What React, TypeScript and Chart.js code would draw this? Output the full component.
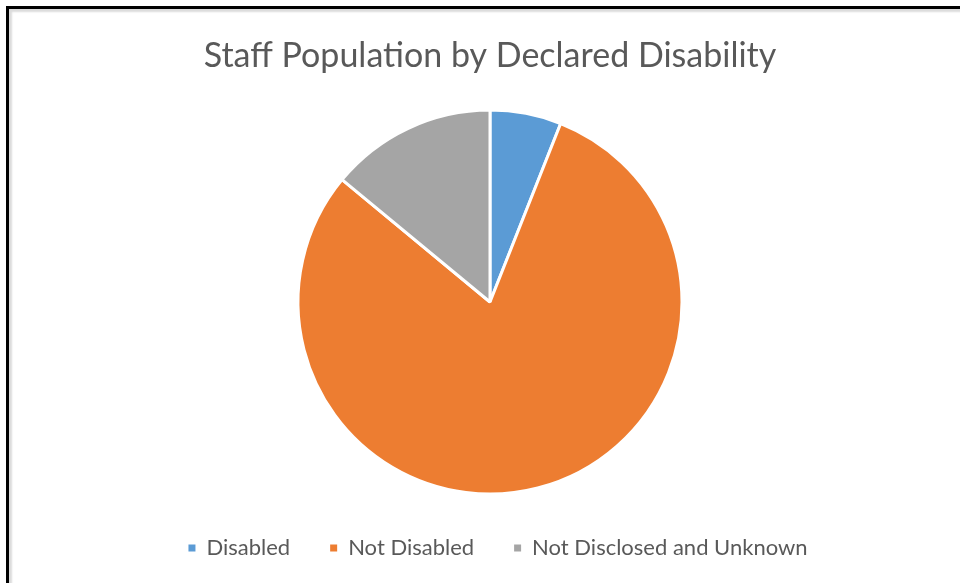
import React, { useEffect, useRef } from "react";
import { Chart, registerables } from "chart.js";

Chart.register(...registerables);

const categories = ["Disabled", "Not Disabled", "Not Disclosed and Unknown"];
const values = [6.0, 80.0, 14.0];
const colors = ["#5B9BD5", "#ED7D31", "#A5A5A5"];
const titleText = "Staff Population by Declared Disability";

const legendShift = {
  id: "legendShift",
  beforeDraw(chart: any) {
    const lg = chart.legend;
    if (lg && !lg._shifted) {
      lg.left += 8;
      lg.right += 8;
      lg._shifted = true;
    }
  },
};

export default function App() {
  const ref = useRef<HTMLCanvasElement | null>(null);

  useEffect(() => {
    if (!ref.current) return;
    const baseLabels = (Chart as any).overrides.pie.plugins.legend.labels.generateLabels;
    const chart = new Chart(ref.current, {
      type: "pie",
      data: {
        labels: categories,
        datasets: [
          {
            data: values,
            backgroundColor: colors,
            borderColor: "#FFFFFF",
            borderWidth: 3,
            hoverOffset: 0,
          },
        ],
      },
      options: {
        animation: false,
        responsive: false,
        events: [],
        radius: 192,
        layout: { padding: { left: 20, right: 0, top: 0, bottom: 14 } },
        plugins: {
          tooltip: { enabled: false },
          title: {
            display: true,
            text: titleText,
            color: "#595959",
            font: { family: "Lato", size: 34, weight: "normal", lineHeight: 1.2 },
            padding: { top: 35.6, bottom: 30.6 },
          },
          legend: {
            position: "bottom",
            labels: {
              color: "#595959",
              font: { family: "Lato", size: 22, lineHeight: 1.2 },
              boxWidth: 7,
              boxHeight: 7,
              padding: 40,
              generateLabels: (c: any) =>
                baseLabels(c).map((l: any) => ({ ...l, lineWidth: 0, strokeStyle: "rgba(0,0,0,0)" })),
            },
          },
        },
      } as any,
      plugins: [legendShift],
    });
    return () => chart.destroy();
  }, []);

  return (
    <div
      style={{
        position: "absolute",
        left: 0,
        top: 0,
        width: 960,
        height: 583,
        overflow: "hidden",
        background: "#fff",
      }}
    >
      <div
        style={{
          position: "absolute",
          left: 6,
          top: 6,
          width: 1000,
          height: 700,
          borderLeft: "3px solid #000",
          borderTop: "3px solid #000",
          boxShadow: "inset 3px 3px 2px #dcdcdc",
        }}
      />
      <canvas
        ref={ref}
        width={960}
        height={583}
        style={{ position: "absolute", left: 0, top: 0, width: 960, height: 583 }}
      />
    </div>
  );
}
